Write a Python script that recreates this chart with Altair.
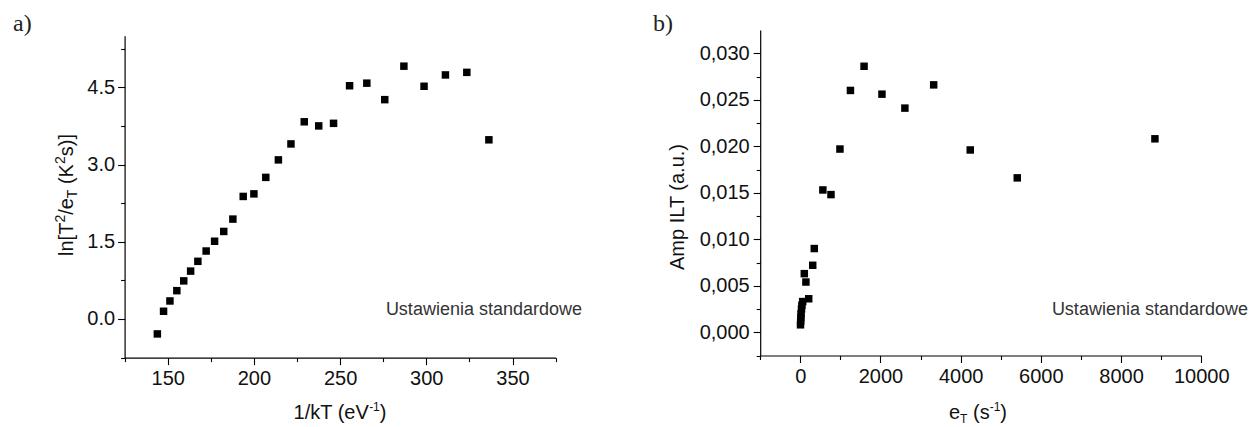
import altair as alt
import pandas as pd

# ---- panel a: Arrhenius plot ----
inv_kT = [144.0, 147.6, 151.3, 155.3, 159.3, 163.3, 167.5, 172.3, 177.2, 182.5,
          187.8, 193.8, 200.0, 206.9, 214.2, 221.5, 229.2, 237.6, 246.2, 255.5,
          265.5, 275.9, 287.0, 298.7, 311.1, 323.5, 336.3]
ln_T2_eT = [-0.29, 0.15, 0.35, 0.55, 0.74, 0.93, 1.12, 1.32, 1.51, 1.70,
            1.94, 2.38, 2.43, 2.75, 3.09, 3.40, 3.83, 3.75, 3.80, 4.53,
            4.58, 4.26, 4.91, 4.52, 4.74, 4.79, 3.48]

# ---- panel b: ILT amplitude vs emission rate ----
e_T = [5, 10, 15, 20, 30, 40, 60, 100, 140, 210, 310, 349, 563, 766, 989,
       1251, 1591, 2037, 2609, 3327, 4239, 5412, 8846]
amp_ILT = [0.0008, 0.0012, 0.0016, 0.0020, 0.0025, 0.0029, 0.0033, 0.0063,
           0.0054, 0.0036, 0.0072, 0.0090, 0.0153, 0.0148, 0.0197,
           0.0260, 0.0286, 0.0256, 0.0241, 0.0266, 0.0196, 0.0166, 0.0208]

# axis tick positions (major + minor)
ticks_a_x = [125, 150, 175, 200, 225, 250, 275, 300, 325, 350, 375]
ticks_a_y = [-0.75, 0.0, 0.75, 1.5, 2.25, 3.0, 3.75, 4.5, 5.25]
ticks_b_x = [-1000, 0, 1000, 2000, 3000, 4000, 5000, 6000, 7000, 8000, 9000, 10000]
ticks_b_y = [-0.0025, 0.0, 0.0025, 0.005, 0.0075, 0.01, 0.0125, 0.015, 0.0175,
             0.02, 0.0225, 0.025, 0.0275, 0.03]

W, H = 1249, 427
SANS = "Liberation Sans, Arial, sans-serif"
SERIF = "Liberation Serif, Times New Roman, serif"
INK = "#111111"

df_a = pd.DataFrame({"x": inv_kT, "y": ln_T2_eT})
df_b = pd.DataFrame({"x": e_T, "y": amp_ILT})


def axis(orient, offset, values, major_test, label_expr, label_size, pad):
    return alt.Axis(
        orient=orient, offset=offset, values=values, title=None, grid=False,
        labelExpr=f"{major_test} ? {label_expr} : ''",
        tickSize={"condition": {"test": major_test, "value": 7}, "value": 4},
        tickColor="black", tickWidth=1.1, domainColor="black", domainWidth=1.2,
        labelFont=SANS, labelFontSize=label_size, labelColor=INK,
        labelPadding=pad, labelOverlap=False, labelFlush=False,
    )


def scatter(df, xdom, xrange, ydom, yrange, xaxis, yaxis):
    return alt.Chart(df).mark_point(
        shape="square", filled=True, size=56, color="black", opacity=1
    ).encode(
        x=alt.X("x:Q", scale=alt.Scale(domain=xdom, range=xrange, nice=False, zero=False), axis=xaxis),
        y=alt.Y("y:Q", scale=alt.Scale(domain=ydom, range=yrange, nice=False, zero=False), axis=yaxis),
    )


# plot-area pixel frames
AX0, AX1, AY0, AY1 = 124.6, 555.6, 357.6, 35.8
BX0, BX1, BY0, BY1 = 760.2, 1201.2, 355.5, 30.0

panel_a = scatter(
    df_a, [125, 375], [AX0, AX1], [-0.75, 5.5], [AY0, AY1],
    axis("bottom", AY0 - H, ticks_a_x, "datum.value % 50 === 0", "format(datum.value, 'd')", 20, 4),
    axis("left", -AX0, ticks_a_y, "abs(datum.value / 1.5 - round(datum.value / 1.5)) < 1e-6",
         "format(datum.value, '.1f')", 20, 3),
)

panel_b = scatter(
    df_b, [-1000, 10000], [BX0, BX1], [-0.0025, 0.0325], [BY0, BY1],
    axis("bottom", BY0 - H, ticks_b_x, "datum.value % 2000 === 0", "format(datum.value, 'd')", 20, 4),
    axis("left", -BX0, ticks_b_y, "abs(datum.value / 0.005 - round(datum.value / 0.005)) < 1e-6",
         "replace(format(datum.value, '.3f'), '.', ',')", 20, 4),
)

# ---- text with sub/superscripts, laid out piece by piece ----
ARIAL = {" ": 278, "(": 333, ")": 333, "[": 278, "]": 278, "/": 278, ".": 278,
         ",": 278, "-": 333, "A": 667, "I": 278, "K": 667, "L": 556, "T": 611,
         "a": 556, "e": 556, "k": 500, "l": 222, "m": 833, "n": 556, "p": 556,
         "s": 500, "u": 556, "V": 667}


def width(s, size):
    return sum(ARIAL.get(c, 556) for c in s) * size / 1000


one = pd.DataFrame({"_": [0]})


def text_mark(s, x, y, size, angle=0, align="left", font=SANS, color=INK):
    return alt.Chart(one).mark_text(
        text=s, font=font, fontSize=size, angle=angle, align=align,
        baseline="alphabetic", color=color,
    ).encode(x=alt.value(x), y=alt.value(y))


def rich(pieces, center, base, vertical=False):
    """pieces: (text, size, raise). Horizontal: center is x, base is baseline y.
    Vertical (reading upward): center is y, base is baseline x.
    Leading blanks are turned into an advance, since SVG collapses them."""
    total = sum(width(t, s) for t, s, _ in pieces)
    layers = []
    cur = center + total / 2 if vertical else center - total / 2
    for t, s, r in pieces:
        body = t.lstrip(" ")
        lead = width(t[: len(t) - len(body)], s)
        if vertical:
            cur -= lead
            layers.append(text_mark(body, base - r, cur, s, angle=270))
            cur -= width(body, s)
        else:
            cur += lead
            layers.append(text_mark(body, cur, base - r, s))
            cur += width(body, s)
    return layers


M, S = 20, 14
labels = []
labels += rich([("ln[T", M, 0), ("2", S, 8), ("/e", M, 0), ("T", S, -4),
                (" (K", M, 0), ("2", S, 8), ("s)]", M, 0)], 195, 73, vertical=True)
labels += rich([("1/kT (eV", M, 0), ("-1", 12, 8), (")", M, 0)], 340, 419)
labels += rich([("e", M, 0), ("T", 12, -4), (" (s", M, 0), ("-1", 12, 8), (")", M, 0)], 978, 419)
labels.append(text_mark("Amp ILT (a.u.)", 684, 207, M, angle=270, align="center"))
labels.append(text_mark("Ustawienia standardowe", 582, 315, 18, align="right", color="#333333"))
labels.append(text_mark("Ustawienia standardowe", 1248, 315, 18, align="right", color="#333333"))
labels.append(text_mark("a)", 13, 31, 24, font=SERIF, color="#222222"))
labels.append(text_mark("b)", 653, 31, 24, font=SERIF, color="#222222"))

chart = alt.layer(panel_a, panel_b, *labels).resolve_scale(
    x="independent", y="independent"
).properties(
    width=W, height=H, autosize=alt.AutoSizeParams(type="none"), padding=0
).configure_view(stroke=None)

chart.save("out.html", embed_options={"renderer": "svg", "actions": False})
